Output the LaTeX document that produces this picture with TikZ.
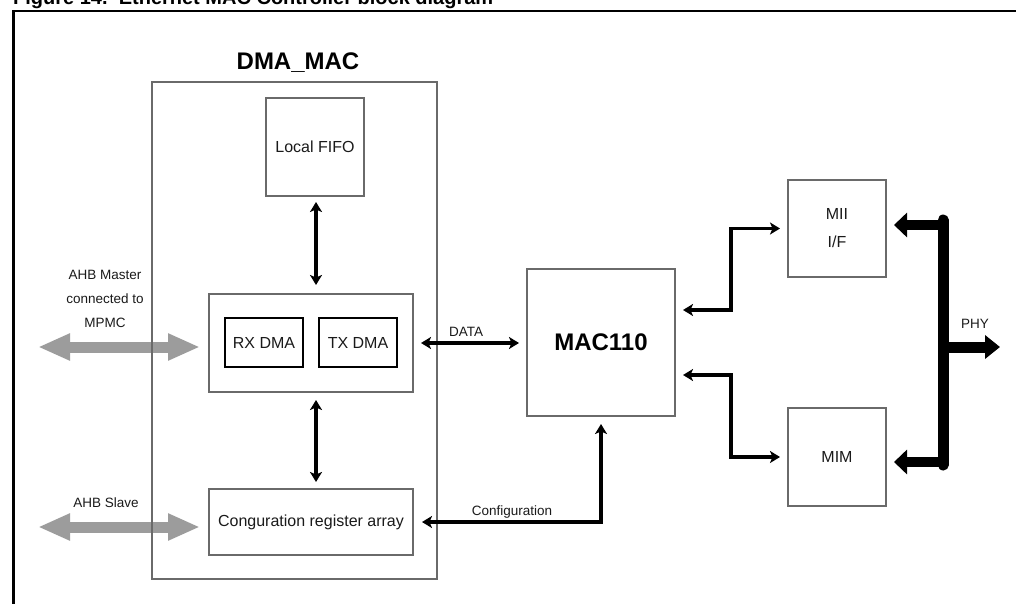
\documentclass[tikz,border=0pt]{standalone}
\usepackage{fontspec}
\setmainfont{Liberation Sans}
\usetikzlibrary{arrows.meta}
\definecolor{boxgray}{HTML}{6A6A6A}
\definecolor{ahbgray}{HTML}{9C9C9C}
\definecolor{txt}{HTML}{1A1A1A}
\tikzset{
  box/.style={draw=boxgray, line width=1.2pt, inner sep=0pt, outer sep=0pt, text=txt,
    font=\fontsize{16}{18}\selectfont, align=center},
  inbox/.style={draw=black, line width=1.1pt, inner sep=0pt, outer sep=0pt, text=txt,
    font=\fontsize{16}{18}\selectfont},
  lbl/.style={text=txt, font=\fontsize{13.5}{24}\selectfont, inner sep=0pt, align=center},
  arr/.style={line width=3.6pt,
    {Stealth[length=10pt,width=12pt,inset=2.5pt]}-{Stealth[length=10pt,width=12pt,inset=2.5pt]}},
  ahb/.style={draw=ahbgray, line width=11pt,
    {Triangle[length=32pt,width=25pt]}-{Triangle[length=32pt,width=25pt]}},
  busarr/.style={line width=10pt, -{Triangle[length=13pt,width=24pt]}},
}
\begin{document}
\begin{tikzpicture}[x=1pt,y=-1pt]
\useasboundingbox (0,0) rectangle (1016,604);
\clip (0,0) rectangle (1016,604);
\fill[white] (0,0) rectangle (1016,604);

% title (cropped) and frame
\node[anchor=base west, inner sep=0pt, font=\bfseries\fontsize{20}{24}\selectfont] (title) at (13,5)
  {Figure 14.\ \ Ethernet MAC Controller block diagram};
\draw[line width=2.5pt] (13.5,11) rectangle (1100,700);

% coordinates
\coordinate (ahbm) at (38,347);
\coordinate (ahbs) at (38,527);
\coordinate (j1) at (731,310);
\coordinate (j2) at (731,375);
\coordinate (cfgc) at (601,522);
\coordinate (busTop) at (943,220);
\coordinate (busBot) at (943,465);
\coordinate (bt) at (943,225);
\coordinate (bb) at (943,462);
\coordinate (bm) at (943,347);
\coordinate (phyend) at (1000,347);

% nodes
\node[box, minimum width=204pt, minimum height=98pt] (dmablk) at (311,343) {};
\node[box, minimum width=204pt, minimum height=66pt] (cfg) at (311,522) {Conguration register array};

% gray AHB arrows (under the DMA_MAC border)
\draw[ahb, shorten >=9pt] (ahbm) -- (ahbm -| dmablk.west);
\draw[ahb, shorten >=9pt] (ahbs) -- (ahbs -| cfg.west);

\node[draw=boxgray, line width=1.2pt, inner sep=0pt, outer sep=0pt, minimum width=285pt, minimum height=497pt] (dma) at (294.5,330.5) {};
\node[anchor=base, inner sep=0pt, text=black, font=\bfseries\fontsize{24}{28}\selectfont] (dmatitle) at (298,70) {DMA\_MAC};

\node[box, minimum width=98pt, minimum height=98pt] (fifo) at (315,147) {Local FIFO};
\node[inbox, minimum width=78pt, minimum height=49pt] (rx) at (264,342.5) {RX DMA};
\node[inbox, minimum width=78pt, minimum height=49pt] (tx) at (358,342.5) {TX DMA};
\node[box, minimum width=148pt, minimum height=147pt, font=\bfseries\fontsize{24}{28}\selectfont, text=black] (mac) at (601,342.5) {MAC110};
\node[box, minimum width=98pt, minimum height=97pt, font=\fontsize{16}{28}\selectfont] (mii) at (837,228.5) {MII\\I/F};
\node[box, minimum width=98pt, minimum height=98pt] (mim) at (837,457) {MIM};

% labels
\node[lbl] (ahbmlbl) at (105,299) {AHB Master\\connected to\\MPMC};
\node[lbl] (ahbslbl) at (106,503) {AHB Slave};
\node[lbl] (datalbl) at (466,332) {DATA};
\node[lbl] (cfglbl) at (512,512) {Configuration};
\node[lbl] (phylbl) at (975,324) {PHY};

% black connectors
\draw[arr, shorten <=6pt, shorten >=9pt] (fifo.south -| 316,0) -- (dmablk.north -| 316,0);
\draw[arr, shorten <=8pt, shorten >=7pt] (dmablk.south -| 316,0) -- (cfg.north -| 316,0);
\draw[arr, shorten <=8pt, shorten >=8pt] (dmablk.east) -- (dmablk.east -| mac.west);
\draw[arr, shorten <=9pt, shorten >=8pt] (cfg.east) -- (cfgc) -- (mac.south);
\draw[arr, shorten <=8pt, shorten >=8pt] (j1 -| mac.east) -- (j1) |- (mii.west);
\draw[arr, shorten <=8pt, shorten >=8pt] (j2 -| mac.east) -- (j2) |- (mim.west);

% PHY bus
\draw[line width=11pt, line cap=round] (busTop) -- (busBot);
\draw[busarr, shorten >=8pt] (bt) -- (bt -| mii.east);
\draw[busarr, shorten >=8pt] (bb) -- (bb -| mim.east);
\draw[line width=11pt, -{Triangle[length=15pt,width=23pt]}] (bm) -- (phyend);
\end{tikzpicture}
\end{document}
